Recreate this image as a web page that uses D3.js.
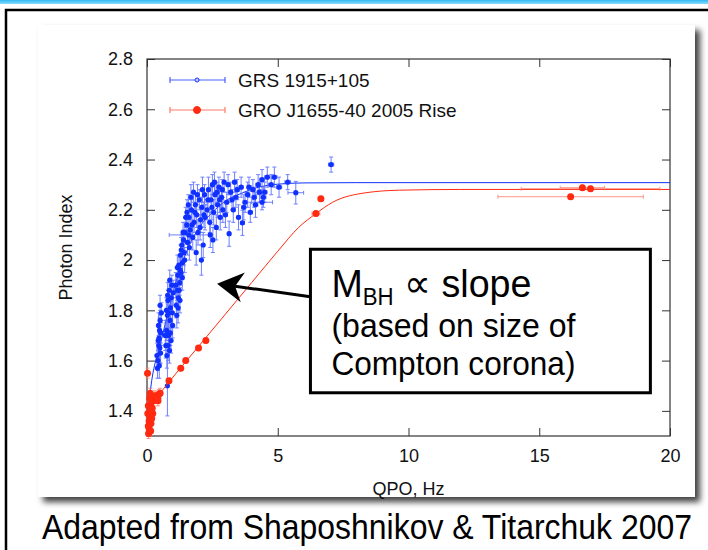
<!DOCTYPE html>
<html>
<head>
<meta charset="utf-8">
<script src="https://cdnjs.cloudflare.com/ajax/libs/d3/7.8.5/d3.min.js"></script>
<style>
body { margin: 0; background: #fff; }
svg { display: block; font-family: 'Liberation Sans', Arial, Helvetica, sans-serif; }
</style>
</head>
<body>
<svg></svg>
<script>
// GRS 1915+105 points: [qpo Hz, photon index, qpo error, index error]
let grsPoints = [
  [0.42,1.60,0.03,0.04],[0.45,1.66,0.03,0.04],[0.48,1.72,0.03,0.05],[0.50,1.76,0.03,0.04],
  [0.46,1.69,0.02,0.05],[0.52,1.63,0.03,0.04],[0.55,1.79,0.03,0.04],[0.44,1.74,0.02,0.05],
  [0.50,1.82,0.03,0.04],[0.40,1.57,0.03,0.04],
  [0.38,1.62,0.03,0.05],[0.43,1.68,0.03,0.06],[0.47,1.58,0.03,0.05],[0.53,1.71,0.03,0.05],
  [0.49,1.65,0.03,0.06],
  [0.72,1.66,0.03,0.05],[0.75,1.72,0.03,0.04],[0.78,1.78,0.03,0.05],[0.80,1.84,0.03,0.04],
  [0.82,1.70,0.03,0.05],[0.85,1.88,0.03,0.04],[0.88,1.76,0.03,0.05],[0.90,1.81,0.03,0.04],
  [0.92,1.68,0.03,0.05],[0.95,1.90,0.03,0.04],[0.98,1.74,0.03,0.05],[0.76,1.62,0.03,0.05],
  [0.86,1.64,0.03,0.05],[0.78,1.50,0.02,0.12],
  [0.70,1.70,0.03,0.06],[0.74,1.80,0.03,0.05],[0.79,1.86,0.03,0.05],[0.83,1.79,0.03,0.06],
  [0.87,1.92,0.03,0.04],[0.93,1.85,0.03,0.05],[0.97,1.79,0.03,0.06],[1.00,1.87,0.03,0.05],
  [0.81,1.66,0.03,0.06],[0.89,1.71,0.03,0.05],
  [1.12,1.82,0.03,0.05],[1.15,1.88,0.03,0.04],[1.18,1.94,0.03,0.04],[1.20,1.85,0.03,0.05],
  [1.22,1.98,0.03,0.04],[1.25,1.91,0.03,0.05],[1.28,2.02,0.03,0.04],[1.30,1.95,0.04,0.05],
  [1.33,2.06,0.03,0.04],[1.36,1.99,0.03,0.05],[1.40,2.08,0.04,0.04],[1.42,2.03,0.03,0.05],
  [1.45,2.11,0.04,0.04],[1.14,1.78,0.03,0.05],[1.26,1.84,0.03,0.05],[1.60,2.10,0.75,0.03],
  [1.10,1.90,0.03,0.05],[1.16,1.97,0.03,0.05],[1.19,1.81,0.03,0.06],[1.23,1.88,0.03,0.05],
  [1.27,1.96,0.03,0.05],[1.31,2.04,0.04,0.05],[1.35,1.93,0.04,0.05],[1.38,2.11,0.04,0.04],
  [1.44,2.00,0.04,0.05],[1.48,2.17,0.04,0.04],
  [1.52,2.14,0.04,0.04],[1.55,2.07,0.04,0.05],[1.60,2.17,0.04,0.04],[1.65,2.12,0.04,0.05],
  [1.70,2.20,0.04,0.04],[1.75,2.09,0.04,0.05],[1.80,2.15,0.05,0.04],[1.85,2.22,0.04,0.04],
  [1.90,2.18,0.05,0.05],[1.95,2.11,0.04,0.05],[2.00,2.24,0.05,0.04],[2.05,2.16,0.05,0.05],
  [2.10,2.21,0.05,0.04],[2.15,2.06,0.05,0.05],[2.20,2.26,0.05,0.04],[1.58,2.22,0.04,0.04],
  [1.68,2.25,0.04,0.05],[1.78,2.27,0.04,0.04],
  [1.53,2.19,0.04,0.05],[1.62,2.05,0.04,0.05],[1.72,2.14,0.04,0.05],[1.83,2.19,0.05,0.04],
  [1.93,2.26,0.05,0.04],[2.03,2.13,0.05,0.05],[2.12,2.28,0.05,0.05],[2.18,2.18,0.05,0.05],
  [1.88,2.03,0.05,0.05],[2.08,2.00,0.05,0.06],
  [2.30,2.20,0.05,0.04],[2.35,2.28,0.05,0.05],[2.40,2.15,0.05,0.04],[2.45,2.24,0.05,0.05],
  [2.50,2.30,0.05,0.04],[2.55,2.19,0.05,0.05],[2.60,2.26,0.06,0.04],[2.65,2.13,0.05,0.05],
  [2.70,2.22,0.06,0.05],[2.75,2.29,0.06,0.04],[2.80,2.17,0.06,0.05],[2.85,2.25,0.06,0.04],
  [2.90,2.20,0.06,0.05],[2.95,2.31,0.06,0.04],[2.42,2.10,0.05,0.05],
  [2.33,2.24,0.05,0.04],[2.48,2.21,0.05,0.05],[2.58,2.31,0.06,0.04],[2.68,2.27,0.06,0.04],
  [2.78,2.24,0.06,0.05],[2.88,2.28,0.06,0.04],[2.52,2.08,0.05,0.05],[2.22,2.17,0.05,0.05],
  [3.05,2.23,0.07,0.04],[3.14,2.105,0.06,0.05],[3.20,2.27,0.07,0.04],[3.30,2.20,0.07,0.05],
  [3.40,2.25,0.08,0.04],[3.50,2.17,0.07,0.05],[3.60,2.29,0.08,0.04],[3.65,2.148,0.07,0.05],
  [3.75,2.23,0.08,0.04],[3.85,2.26,0.08,0.05],[3.95,2.19,0.08,0.04],[4.05,2.28,0.09,0.04],
  [4.15,2.22,0.09,0.05],[4.25,2.30,0.09,0.04],[3.10,2.30,0.07,0.04],[3.35,2.31,0.07,0.04],
  [3.00,2.18,0.07,0.05],[3.25,2.24,0.07,0.04],[3.45,2.28,0.08,0.04],[3.70,2.21,0.08,0.05],
  [3.90,2.29,0.08,0.04],[4.10,2.25,0.09,0.04],[4.30,2.27,0.09,0.04],
  [4.40,2.23,0.40,0.03],
  [4.40,2.32,0.09,0.04],[4.50,2.27,0.09,0.04],[4.60,2.33,0.10,0.04],[4.75,2.30,0.10,0.04],
  [4.87,2.33,0.10,0.04],[5.05,2.29,0.10,0.04],[5.38,2.31,0.11,0.03],[4.45,2.25,0.10,0.04],
  [5.69,2.268,0.30,0.045],[7.04,2.38,0.10,0.03]
]

// GRO J1655-40 2005 rise points: [qpo Hz, photon index, qpo error, index error]
let groPoints = [
  [0.02,1.55,0.02,0.02],[0.05,1.34,0.02,0.02],[0.08,1.36,0.02,0.02],[0.10,1.38,0.02,0.02],
  [0.12,1.40,0.02,0.02],[0.05,1.42,0.02,0.02],[0.15,1.43,0.02,0.02],[0.20,1.41,0.02,0.02],
  [0.10,1.45,0.02,0.02],[0.25,1.44,0.03,0.02],[0.18,1.37,0.02,0.02],[0.08,1.33,0.02,0.02],
  [0.30,1.46,0.03,0.02],[0.12,1.47,0.02,0.02],[0.35,1.45,0.03,0.02],[0.40,1.455,0.03,0.02],
  [0.45,1.465,0.03,0.02],[0.50,1.47,0.03,0.02],[0.42,1.44,0.03,0.02],[0.03,1.39,0.02,0.02],
  [0.22,1.39,0.02,0.02],[0.15,1.35,0.02,0.02],[0.06,1.31,0.02,0.02],[0.14,1.32,0.02,0.02],
  [0.84,1.52,0.04,0.01],[1.29,1.57,0.05,0.01],[1.48,1.60,0.05,0.01],[1.97,1.65,0.06,0.01],
  [2.25,1.68,0.06,0.01],[6.46,2.185,0.15,0.01],[6.65,2.244,0.10,0.01],
  [16.2,2.252,2.78,0.01],[16.65,2.288,0.85,0.01],[16.96,2.284,2.65,0.01]
]

// fitted curves
let grsFitQpo   = [0, 0.18, 0.5, 0.8, 1.1, 1.5, 2.0, 2.5, 3.0, 3.6, 4.2, 5.0, 6.0, 8, 20]
let grsFitIndex = [1.36, 1.52, 1.66, 1.79, 1.91, 2.03, 2.13, 2.19, 2.235, 2.265, 2.288, 2.302, 2.307, 2.308, 2.308]
let groFitQpo   = [0, 1, 2, 3, 4, 5, 5.8, 6.46, 7.1, 8.38, 9.65, 12, 20]
let groFitIndex = [1.405, 1.535, 1.66, 1.785, 1.91, 2.035, 2.13, 2.185, 2.23, 2.268, 2.278, 2.281, 2.281]

let xTicks = [0, 5, 10, 15, 20]
let yTicks = [1.4, 1.6, 1.8, 2.0, 2.2, 2.4, 2.6, 2.8]
let seriesNames = ['GRS 1915+105', 'GRO J1655-40 2005 Rise']

let width = 708
let height = 550
let plotLeft = 147, plotRight = 670, plotTop = 59, plotBottom = 436

let svg = d3.select('svg').attr('width', width).attr('height', height)

let xScale = d3.scaleLinear().domain([0, 20]).range([plotLeft, plotRight])
let yScale = d3.scaleLinear().domain([1.3, 2.8]).range([plotBottom, plotTop])

let blue = '#1030ff', blueBar = '#4a60ff'
let red = '#ff2a10', redBar = '#ff7a6a'

let drawBackground = () => {
    let defs = svg.append('defs')
    let grad = defs.append('linearGradient')
        .attr('id', 'strip').attr('x1', 0).attr('x2', 0).attr('y1', 0).attr('y2', 1)
    grad.append('stop').attr('offset', '0%').attr('stop-color', '#2fb8f0')
    grad.append('stop').attr('offset', '100%').attr('stop-color', '#8adcff')
    defs.append('filter').attr('id', 'shadow')
        .attr('x', '-5%').attr('y', '-5%').attr('width', '115%').attr('height', '115%')
        .append('feDropShadow')
        .attr('dx', 5).attr('dy', 5).attr('stdDeviation', 3)
        .attr('flood-color', '#000').attr('flood-opacity', 0.75)

    svg.append('rect').attr('x', 0).attr('y', 0).attr('width', width).attr('height', 4)
        .attr('fill', 'url(#strip)')
    svg.append('path').attr('d', 'M6,550 V10 H708')
        .attr('fill', 'none').attr('stroke', '#000').attr('stroke-width', 2.5)
    svg.append('rect').attr('x', 38).attr('y', 25).attr('width', 657).attr('height', 472)
        .attr('fill', '#fff').attr('filter', 'url(#shadow)')
}

let drawAxes = () => {
    let fmt = d3.format('~g')
    svg.append('g').attr('transform', 'translate(0,' + plotBottom + ')')
        .call(d3.axisBottom(xScale).tickValues(xTicks).tickSizeInner(-8).tickSizeOuter(0).tickPadding(13))
    svg.append('g').attr('transform', 'translate(0,' + plotTop + ')')
        .call(d3.axisTop(xScale).tickValues(xTicks).tickSizeInner(-8).tickSizeOuter(0).tickFormat(''))
    svg.append('g').attr('transform', 'translate(' + plotLeft + ',0)')
        .call(d3.axisLeft(yScale).tickValues(yTicks).tickSizeInner(-8).tickSizeOuter(0).tickPadding(14).tickFormat(fmt))
    svg.append('g').attr('transform', 'translate(' + plotRight + ',0)')
        .call(d3.axisRight(yScale).tickValues(yTicks).tickSizeInner(-8).tickSizeOuter(0).tickFormat(''))

    svg.selectAll('.domain').remove()
    svg.selectAll('.tick line').attr('stroke', '#333')
    svg.selectAll('.tick text').attr('font-size', 18).attr('fill', '#111')
        .attr('font-family', "'Liberation Sans', Arial, sans-serif")

    svg.append('rect').attr('x', plotLeft).attr('y', plotTop)
        .attr('width', plotRight - plotLeft).attr('height', plotBottom - plotTop)
        .attr('fill', 'none').attr('stroke', '#333').attr('stroke-width', 1.2)

    svg.append('text').attr('x', (plotLeft + plotRight) / 2).attr('y', 495)
        .attr('text-anchor', 'middle').attr('font-size', 18).attr('fill', '#111')
        .text('QPO, Hz')
    svg.append('text').attr('transform', 'translate(72,' + ((plotTop + plotBottom) / 2) + ') rotate(-90)')
        .attr('text-anchor', 'middle').attr('font-size', 18).attr('fill', '#111')
        .text('Photon Index')
}

let drawSeries = (points, fitX, fitY, color, barColor, r) => {
    let line = d3.line().curve(d3.curveMonotoneX)
        .x((d) => xScale(d[0])).y((d) => yScale(d[1]))
    svg.append('path').datum(d3.zip(fitX, fitY)).attr('d', line)
        .attr('fill', 'none').attr('stroke', color).attr('stroke-width', 1)

    let bars = svg.append('g').attr('stroke', barColor).attr('stroke-width', 1).attr('opacity', 0.8)
    points.forEach((p) => {
        let cx = xScale(p[0]), cy = yScale(p[1])
        let x0 = xScale(p[0] - p[2]), x1 = xScale(p[0] + p[2])
        let y0 = yScale(p[1] - p[3]), y1 = yScale(p[1] + p[3])
        bars.append('path').attr('d',
            'M' + cx + ',' + y0 + 'V' + y1 +
            'M' + (cx - 2) + ',' + y0 + 'h4M' + (cx - 2) + ',' + y1 + 'h4' +
            'M' + x0 + ',' + cy + 'H' + x1 +
            'M' + x0 + ',' + (cy - 2) + 'v4M' + x1 + ',' + (cy - 2) + 'v4')
    })
    svg.append('g').selectAll('circle').data(points).enter().append('circle')
        .attr('cx', (d) => xScale(d[0])).attr('cy', (d) => yScale(d[1]))
        .attr('r', r).attr('fill', color)
}

let drawLegend = () => {
    let rows = [
        {name: seriesNames[0], y: 80, color: blueBar, dot: blue, r: 2, fill: '#c8d0ff'},
        {name: seriesNames[1], y: 110, color: redBar, dot: red, r: 3.5, fill: red}
    ]
    rows.forEach((row) => {
        svg.append('path')
            .attr('d', 'M170,' + row.y + 'H225M170,' + (row.y - 3) + 'v6M225,' + (row.y - 3) + 'v6')
            .attr('stroke', row.color).attr('stroke-width', 1.2).attr('fill', 'none')
        svg.append('circle').attr('cx', 197).attr('cy', row.y).attr('r', row.r)
            .attr('fill', row.fill).attr('stroke', row.dot).attr('stroke-width', 1)
        svg.append('text').attr('x', 238).attr('y', row.y + 7)
            .attr('font-size', 19).attr('fill', '#111').text(row.name)
    })
}

let drawAnnotation = () => {
    // box and arrow in data coordinates
    let bx0 = xScale(6.25), bx1 = xScale(19.25), by0 = yScale(2.043), by1 = yScale(1.472)
    svg.append('rect').attr('x', bx0).attr('y', by0)
        .attr('width', bx1 - bx0).attr('height', by1 - by0)
        .attr('fill', '#fff').attr('stroke', '#000').attr('stroke-width', 3)

    let tail = [bx0, yScale(1.854)]
    let tip = [xScale(2.68), yScale(1.906)]
    let ang = Math.atan2(tip[1] - tail[1], tip[0] - tail[0])
    let headLen = 26, headW = 15
    let base = [tip[0] - headLen * Math.cos(ang), tip[1] - headLen * Math.sin(ang)]
    let notch = [tip[0] - headLen * 0.7 * Math.cos(ang), tip[1] - headLen * 0.7 * Math.sin(ang)]
    svg.append('line').attr('x1', tail[0]).attr('y1', tail[1]).attr('x2', notch[0]).attr('y2', notch[1])
        .attr('stroke', '#000').attr('stroke-width', 3)
    let px = -Math.sin(ang), py = Math.cos(ang)
    svg.append('path').attr('d',
        'M' + tip[0] + ',' + tip[1] +
        'L' + (base[0] + px * headW) + ',' + (base[1] + py * headW) +
        'L' + notch[0] + ',' + notch[1] +
        'L' + (base[0] - px * headW) + ',' + (base[1] - py * headW) + 'Z')
        .attr('fill', '#000')

    let t1 = svg.append('text').attr('x', bx0 + 21).attr('y', by0 + 48).attr('font-size', 39).attr('fill', '#000')
        .attr('textLength', 200).attr('lengthAdjust', 'spacingAndGlyphs')
    t1.append('tspan').text('M')
    t1.append('tspan').attr('font-size', 23).attr('dy', 8).text('BH')
    t1.append('tspan').attr('dy', -8).text(' \u221d slope')
    svg.append('text').attr('x', bx0 + 21).attr('y', by0 + 88).attr('font-size', 33)
        .attr('textLength', 244).attr('lengthAdjust', 'spacingAndGlyphs').text('(based on size of')
    svg.append('text').attr('x', bx0 + 21).attr('y', by0 + 126).attr('font-size', 33)
        .attr('textLength', 244).attr('lengthAdjust', 'spacingAndGlyphs').text('Compton corona)')
}

let drawCaption = () => {
    svg.append('text').attr('x', 42).attr('y', 539).attr('font-size', 35).attr('fill', '#000')
        .attr('textLength', 650).attr('lengthAdjust', 'spacingAndGlyphs')
        .text('Adapted from Shaposhnikov & Titarchuk 2007')
}

drawBackground()
drawAxes()
drawSeries(grsPoints, grsFitQpo, grsFitIndex, blue, blueBar, 2.6)
drawSeries(groPoints, groFitQpo, groFitIndex, red, redBar, 3.5)
drawLegend()
drawAnnotation()
drawCaption()
</script>
</body>
</html>
